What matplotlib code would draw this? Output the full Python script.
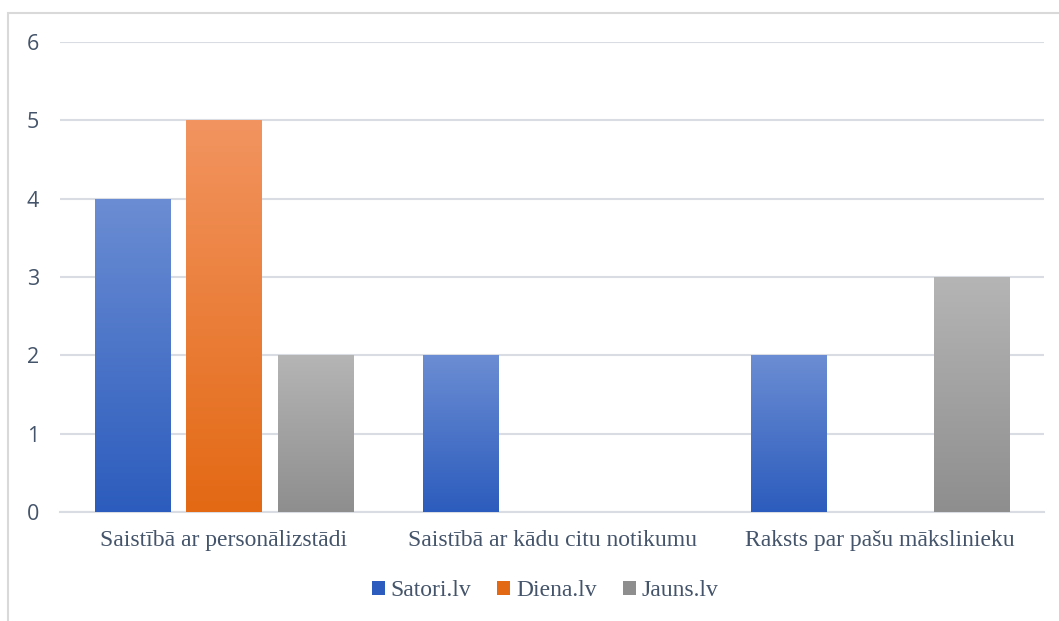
import numpy as np
import matplotlib.pyplot as plt
from matplotlib.colors import LinearSegmentedColormap
from matplotlib.patches import Rectangle

categories = ["Saistībā ar personālizstādi", "Saistībā ar kādu citu notikumu", "Raksts par pašu mākslinieku"]
series = ["Satori.lv", "Diena.lv", "Jauns.lv"]
satori = [4, 2, 2]
diena = [5, 0, 0]
jauns = [2, 0, 3]

# gradient (top, bottom) per series
grads = [("#6B8DD3", "#2C5CBD"), ("#F29460", "#E36914"), ("#B5B5B5", "#8E8E8E")]
text_col = "#44546A"

fig = plt.figure(figsize=(10.59, 6.21), dpi=100)
# outer chart frame
fig.patches.append(Rectangle((8 / 1059, -0.1), 1.2, 1 - 13 / 621 + 0.1, transform=fig.transFigure,
                             fill=False, edgecolor="#D9D9D9", linewidth=1.5))
ax = fig.add_axes([60 / 1059, 1 - 512 / 621, (1044 - 60) / 1059, (512 - 42) / 621])

x = np.arange(len(categories))
bw = 0.229
step = bw + 0.049
vals = [satori, diena, jauns]
grad = np.linspace(0, 1, 256).reshape(-1, 1)
for i, (name, v) in enumerate(zip(series, vals)):
    cmap = LinearSegmentedColormap.from_list(name, [grads[i][1], grads[i][0]])
    pos = x + (i - 1) * step
    bars = ax.bar(pos, v, bw, color="none", edgecolor="none", label=name, zorder=3)
    for b in bars:
        h = b.get_height()
        if h <= 0:
            continue
        x0 = b.get_x()
        im = ax.imshow(grad, cmap=cmap, aspect="auto", origin="lower",
                       extent=[x0, x0 + bw, 0, h], zorder=3)
        im.set_clip_path(b)

ax.set_xlim(-0.5, 2.5)
ax.set_ylim(0, 6)
ax.set_yticks(range(7))
ax.yaxis.grid(True, color="#D9DDE3", linewidth=1.5, zorder=0)
ax.set_axisbelow(True)
for s in ["top", "right", "left"]:
    ax.spines[s].set_visible(False)
ax.spines["bottom"].set_color("#D9DDE3")
ax.spines["bottom"].set_linewidth(1.5)
ax.tick_params(axis="both", length=0)
ax.tick_params(axis="y", pad=15)
ax.tick_params(axis="x", pad=13)
ax.set_xticks(x)
ax.set_xticklabels(categories, family="Liberation Serif", fontsize=17, color=text_col)
for lab in ax.get_yticklabels():
    lab.set_family("Open Sans")
    lab.set_fontsize(15.5)
    lab.set_color(text_col)

handles = []
for i, name in enumerate(series):
    handles.append(Rectangle((0, 0), 1, 1, facecolor=grads[i][1], edgecolor="none"))
leg = fig.legend(handles, series, loc="center", bbox_to_anchor=(545 / 1059, 1 - 591 / 621), ncol=3,
                 frameon=False, prop={"family": "Liberation Serif", "size": 17},
                 handlelength=0.55, handleheight=0.55, handletextpad=0.25, columnspacing=1.1)
for t in leg.get_texts():
    t.set_color(text_col)

fig.savefig("out.png", dpi=100)
